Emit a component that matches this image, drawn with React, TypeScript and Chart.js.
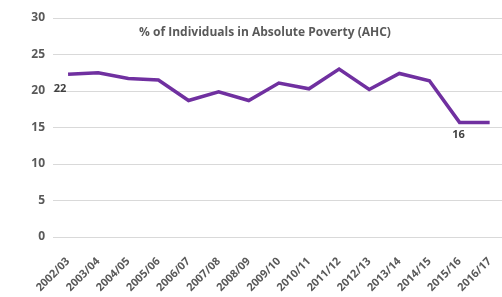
import React, { useEffect, useRef } from "react";
import { Chart, registerables } from "chart.js";

Chart.register(...registerables);

const categories = [
  "2002/03", "2003/04", "2004/05", "2005/06", "2006/07", "2007/08", "2008/09",
  "2009/10", "2010/11", "2011/12", "2012/13", "2013/14", "2014/15", "2015/16", "2016/17",
];
const poverty = [22.3, 22.5, 21.7, 21.5, 18.7, 19.9, 18.7, 21.1, 20.3, 23.0, 20.2, 22.4, 21.4, 15.7, 15.7];
const yTicks = [0, 5, 10, 15, 20, 25, 30];
const title = "% of Individuals in Absolute Poverty (AHC)";
const labelledPoints = [
  { index: 0, text: "22" },
  { index: 13, text: "16" },
];

const FONT = "'Open Sans', 'Liberation Sans', sans-serif";

export default function App() {
  const ref = useRef<HTMLCanvasElement | null>(null);

  useEffect(() => {
    const canvas = ref.current;
    if (!canvas) return;

    const overlay = {
      id: "overlay",
      afterDatasetsDraw(chart: any) {
        const ctx = chart.ctx;
        const area = chart.chartArea;
        const xs = chart.scales.x;
        const ys = chart.scales.y;
        ctx.save();
        ctx.fillStyle = "#595959";
        ctx.font = `bold 12px ${FONT}`;
        ctx.textAlign = "center";
        ctx.textBaseline = "middle";
        ctx.fillText(title, 265, area.top + 15);
        ctx.font = `bold 11px ${FONT}`;
        ctx.fillStyle = "#404040";
        labelledPoints.forEach((p) => {
          const x = xs.getPixelForValue(p.index);
          const y = ys.getPixelForValue(poverty[p.index]);
          if (p.index === 0) ctx.fillText(p.text, x - 8, y + 15);
          else ctx.fillText(p.text, x - 1, y + 12);
        });
        ctx.restore();
      },
    };

    const chart = new Chart(canvas, {
      type: "line",
      data: {
        labels: categories,
        datasets: [
          {
            data: poverty,
            borderColor: "#7030A0",
            borderWidth: 3.5,
            pointRadius: 0,
            tension: 0,
            fill: false,
          },
        ],
      },
      options: {
        responsive: false,
        animation: false,
        layout: { padding: { top: 18, left: 0, right: 0, bottom: 0 } },
        plugins: {
          legend: { display: false },
          tooltip: { enabled: false },
          title: { display: false },
        },
        scales: {
          x: {
            offset: true,
            grid: { display: false },
            border: { display: false },
            ticks: {
              minRotation: 45,
              maxRotation: 45,
              autoSkip: false,
              padding: 10,
              color: "#595959",
              font: { family: FONT, size: 11, weight: "bold" },
            },
            afterFit(scale: any) {
              scale.height = 60;
            },
          },
          y: {
            min: 0,
            max: 30,
            afterBuildTicks(scale: any) {
              scale.ticks = yTicks.map((v) => ({ value: v }));
            },
            grid: { color: "#d9d9d9", lineWidth: 1, drawTicks: false },
            border: { display: false },
            ticks: {
              padding: 8,
              color: "#595959",
              font: { family: FONT, size: 12, weight: "bold" },
            },
            afterFit(scale: any) {
              scale.width = 53;
            },
          },
        },
      },
      plugins: [overlay],
    });
    return () => chart.destroy();
  }, []);

  return (
    <div
      style={{
        position: "fixed",
        left: 0,
        top: 0,
        width: 502,
        height: 297,
        overflow: "hidden",
        background: "#ffffff",
      }}
    >
      <canvas ref={ref} width={509} height={297} style={{ display: "block" }} />
    </div>
  );
}
